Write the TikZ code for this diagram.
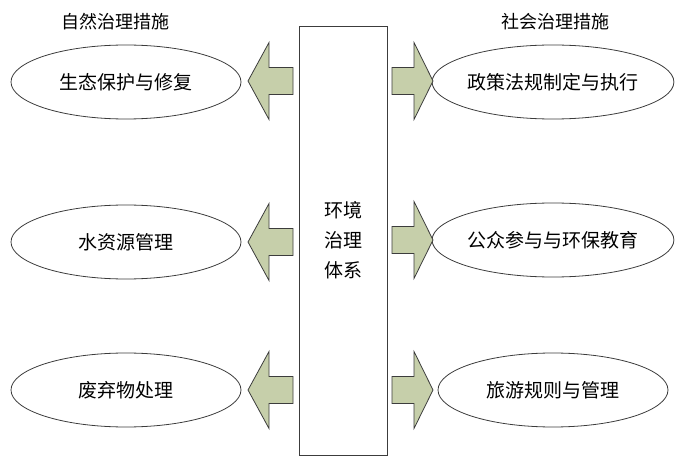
\documentclass[tikz,border=0pt]{standalone}
\usepackage{fontspec}
\setmainfont{Noto Sans CJK SC}
\usetikzlibrary{shapes.geometric}
\definecolor{arrowgreen}{RGB}{198,207,170}
\definecolor{linegray}{RGB}{60,60,60}
\tikzset{
    measure/.style={draw=linegray, line width=0.8pt, ellipse, minimum width=230pt, minimum height=74pt, inner sep=0pt, font=\fontsize{19}{22}\selectfont},
    heading/.style={font=\fontsize{18}{20}\selectfont},
    blockarrow/.style={draw=linegray, line width=0.8pt, fill=arrowgreen, line join=miter}
}
\begin{document}
\begin{tikzpicture}[x=1pt, y=-1pt]
    \useasboundingbox (0, 0) rectangle (675, 465);
    \node[heading] (natural) at (115, 22) {自然治理措施};
    \node[heading] (social) at (555, 22) {社会治理措施};
    \node[draw=linegray, line width=0.8pt, minimum width=88pt, minimum height=429pt, align=center, font=\fontsize{19}{30}\selectfont] (sys) at (343, 240.5) {环境\\治理\\体系};
    \node[measure] (eco) at (126, 82) {生态保护与修复};
    \node[measure] (water) at (126, 242) {水资源管理};
    \node[measure] (waste) at (126, 390) {废弃物处理};
    \node[measure] (policy) at (553, 82) {政策法规制定与执行};
    \node[measure] (public) at (553, 240) {公众参与与环保教育};
    \node[measure] (tour) at (553, 390) {旅游规则与管理};
    % block arrows
    \foreach \row in {81, 242, 390} {
        \begin{scope}[yshift=-\row pt]
        \draw[blockarrow] (248, 0) -- (269, -38.5) -- (269, -13.5) -- (293, -13.5) -- (293, 13.5) -- (269, 13.5) -- (269, 38.5) -- cycle;
        \end{scope}
    }
    \foreach \row in {81, 240, 390} {
        \begin{scope}[yshift=-\row pt]
        \draw[blockarrow] (433, 0) -- (414, -38.5) -- (414, -13.5) -- (392, -13.5) -- (392, 13.5) -- (414, 13.5) -- (414, 38.5) -- cycle;
        \end{scope}
    }
\end{tikzpicture}
\end{document}
